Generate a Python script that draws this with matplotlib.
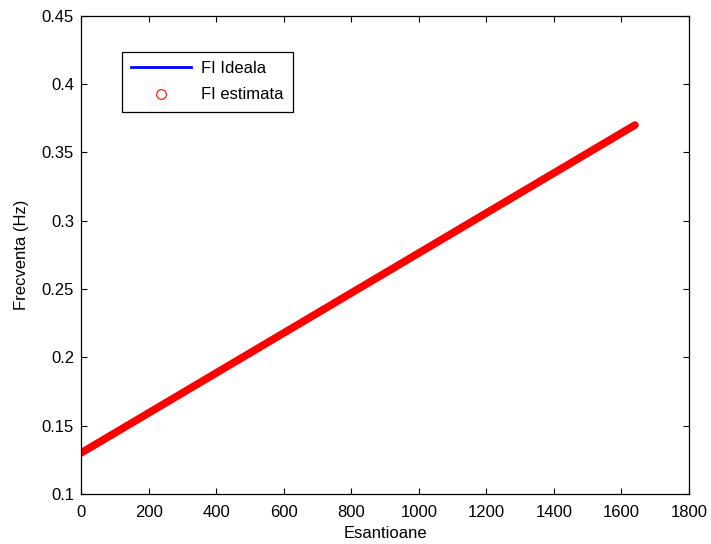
import numpy as np
import matplotlib
matplotlib.use('Agg')
import matplotlib.pyplot as plt
from matplotlib.lines import Line2D

# frecventa instantanee a chirp-ului liniar (capete citite)
esantioane = [0, 1640]
fi_ideala = [0.13, 0.37]
fi_estimata = [0.13, 0.37]

xticks = [0, 200, 400, 600, 800, 1000, 1200, 1400, 1600, 1800]
yticks = [0.1, 0.15, 0.2, 0.25, 0.3, 0.35, 0.4, 0.45]
yticklabels = ['0.1', '0.15', '0.2', '0.25', '0.3', '0.35', '0.4', '0.45']

plt.rcParams['font.family'] = ['Liberation Sans', 'DejaVu Sans']
plt.rcParams['font.size'] = 12

fig = plt.figure(figsize=(7.11, 5.44), dpi=100)
ax = fig.add_axes([0.114, 0.092, 0.855, 0.879])

# FI ideala (linie albastra) si FI estimata (cercuri rosii, foarte dese)
ax.plot(esantioane, fi_ideala, color='blue', lw=2)
ax.plot(esantioane, fi_estimata, color='red', lw=5.5, solid_capstyle='round')

ax.set_xlim(0, 1800)
ax.set_ylim(0.1, 0.45)
ax.set_xticks(xticks)
ax.set_yticks(yticks)
ax.set_yticklabels(yticklabels)
ax.tick_params(direction='in', length=4, top=True, right=True, width=0.8,
               labelsize=12)
ax.tick_params(axis='x', pad=8)
ax.tick_params(axis='y', pad=5)
for s in ax.spines.values():
    s.set_linewidth(0.9)

ax.set_xlabel('Esantioane', fontsize=12, labelpad=4)
ax.set_ylabel('Frecventa (Hz)', fontsize=12, labelpad=9)

handles = [Line2D([], [], color='blue', lw=2),
           Line2D([], [], color='red', ls='none', marker='o', mfc='none', ms=7, mew=0.8)]
leg = ax.legend(handles, ['FI Ideala', 'FI estimata'], loc='upper left',
                bbox_to_anchor=(0.067, 0.925), borderaxespad=0, fancybox=False,
                edgecolor='black', fontsize=12, handlelength=3.6, framealpha=1,
                borderpad=0.55, labelspacing=0.7, handletextpad=0.6)
leg.get_frame().set_linewidth(0.9)

fig.savefig('out.png', dpi=100)
